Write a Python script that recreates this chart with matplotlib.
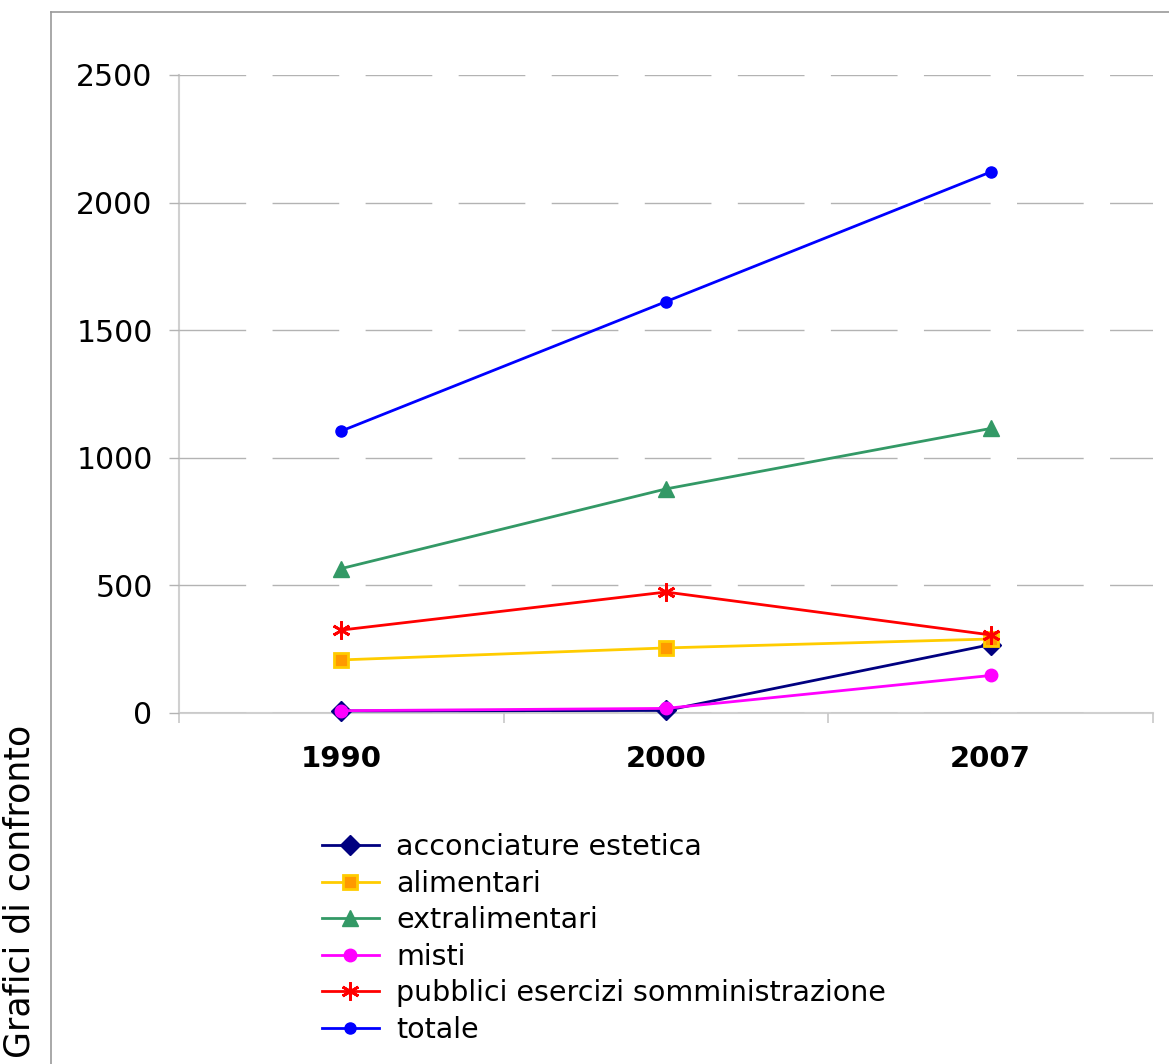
"""Recreate the 'Grafici di confronto' line chart (shop counts per category)."""

import matplotlib

matplotlib.use("Agg")

import matplotlib.pyplot as plt  # noqa: E402
from matplotlib.lines import Line2D  # noqa: E402

plt.rcParams["font.family"] = ["DejaVu Sans"]
plt.rcParams["lines.scale_dashes"] = False

# Data.
years = ["1990", "2000", "2007"]
acconciature = [8, 10, 268]
alimentari = [208, 255, 290]
extralimentari = [566, 878, 1115]
misti = [9, 18, 147]
pubblici = [325, 474, 306]
totale = [1105, 1612, 2120]

series = [
    ("acconciature estetica", acconciature, dict(color="#000080", marker="D", ms=10,
                                                 mfc="#000080", mec="#000080")),
    ("alimentari", alimentari, dict(color="#FFCC00", marker="s", ms=10,
                                    mfc="#FF9900", mec="#FFCC00", mew=2)),
    ("extralimentari", extralimentari, dict(color="#339966", marker="^", ms=12,
                                            mfc="#339966", mec="#339966")),
    ("misti", misti, dict(color="#FF00FF", marker="o", ms=9,
                          mfc="#FF00FF", mec="#FF00FF")),
    ("pubblici esercizi somministrazione", pubblici, dict(color="#FF0000", marker=(6, 2, 0),
                                                          ms=13, mec="#FF0000", mew=2)),
    ("totale", totale, dict(color="#0000FF", marker="o", ms=8,
                            mfc="#0000FF", mec="#0000FF")),
]

fig = plt.figure(figsize=(11.69, 10.64), dpi=100)

# Partial chart frame (Excel chart area border, cropped at right and bottom).
fig.add_artist(Line2D([51 / 1169, 51 / 1169], [0, 1 - 12 / 1064], color="#9a9a9a", lw=1.2))
fig.add_artist(Line2D([51 / 1169, 1], [1 - 12 / 1064, 1 - 12 / 1064], color="#9a9a9a", lw=1.2))

ax = fig.add_axes([179 / 1169, 1 - 713 / 1064, (1153 - 179) / 1169, (713 - 75) / 1064])

x = list(range(len(years)))
for label, values, style in series:
    ax.plot(x, values, label=label, lw=2.0, **style, clip_on=False)

ax.set_xlim(-0.5, len(years) - 0.5)
ax.set_ylim(0, 2500)
ax.set_yticks(range(0, 2501, 500))
ax.set_xticks(x)
ax.set_xticklabels(years, fontsize=21, fontweight="bold")
ax.set_xticks([i - 0.5 for i in range(len(years) + 1)], minor=True)
ax.tick_params(axis="x", which="major", length=0, pad=23)
ax.tick_params(axis="x", which="minor", length=7, color="#c8c8c8", width=1.2)
ax.tick_params(axis="y", length=7, color="#b3b3b3", width=1, pad=12, labelsize=21.5)

ax.grid(axis="y", color="#b3b3b3", lw=1, linestyle=(0, (48, 19)))
ax.set_axisbelow(True)
for side in ("top", "right"):
    ax.spines[side].set_visible(False)
for side in ("left", "bottom"):
    ax.spines[side].set_color("#d0d0d0")
    ax.spines[side].set_linewidth(1.5)
    ax.spines[side].set_zorder(0.5)

fig.text(20 / 1169, 1 - 1058 / 1064, "Grafici di confronto", rotation=90,
         fontsize=25, ha="center", va="bottom")

fig.legend(loc="upper left", bbox_to_anchor=(322 / 1169, 1 - 833 / 1064),
           frameon=False, fontsize=20.5, handlelength=2.0, handletextpad=0.6,
           labelspacing=0.3, borderpad=0, borderaxespad=0)

fig.savefig("out.png", dpi=100, facecolor="white")
